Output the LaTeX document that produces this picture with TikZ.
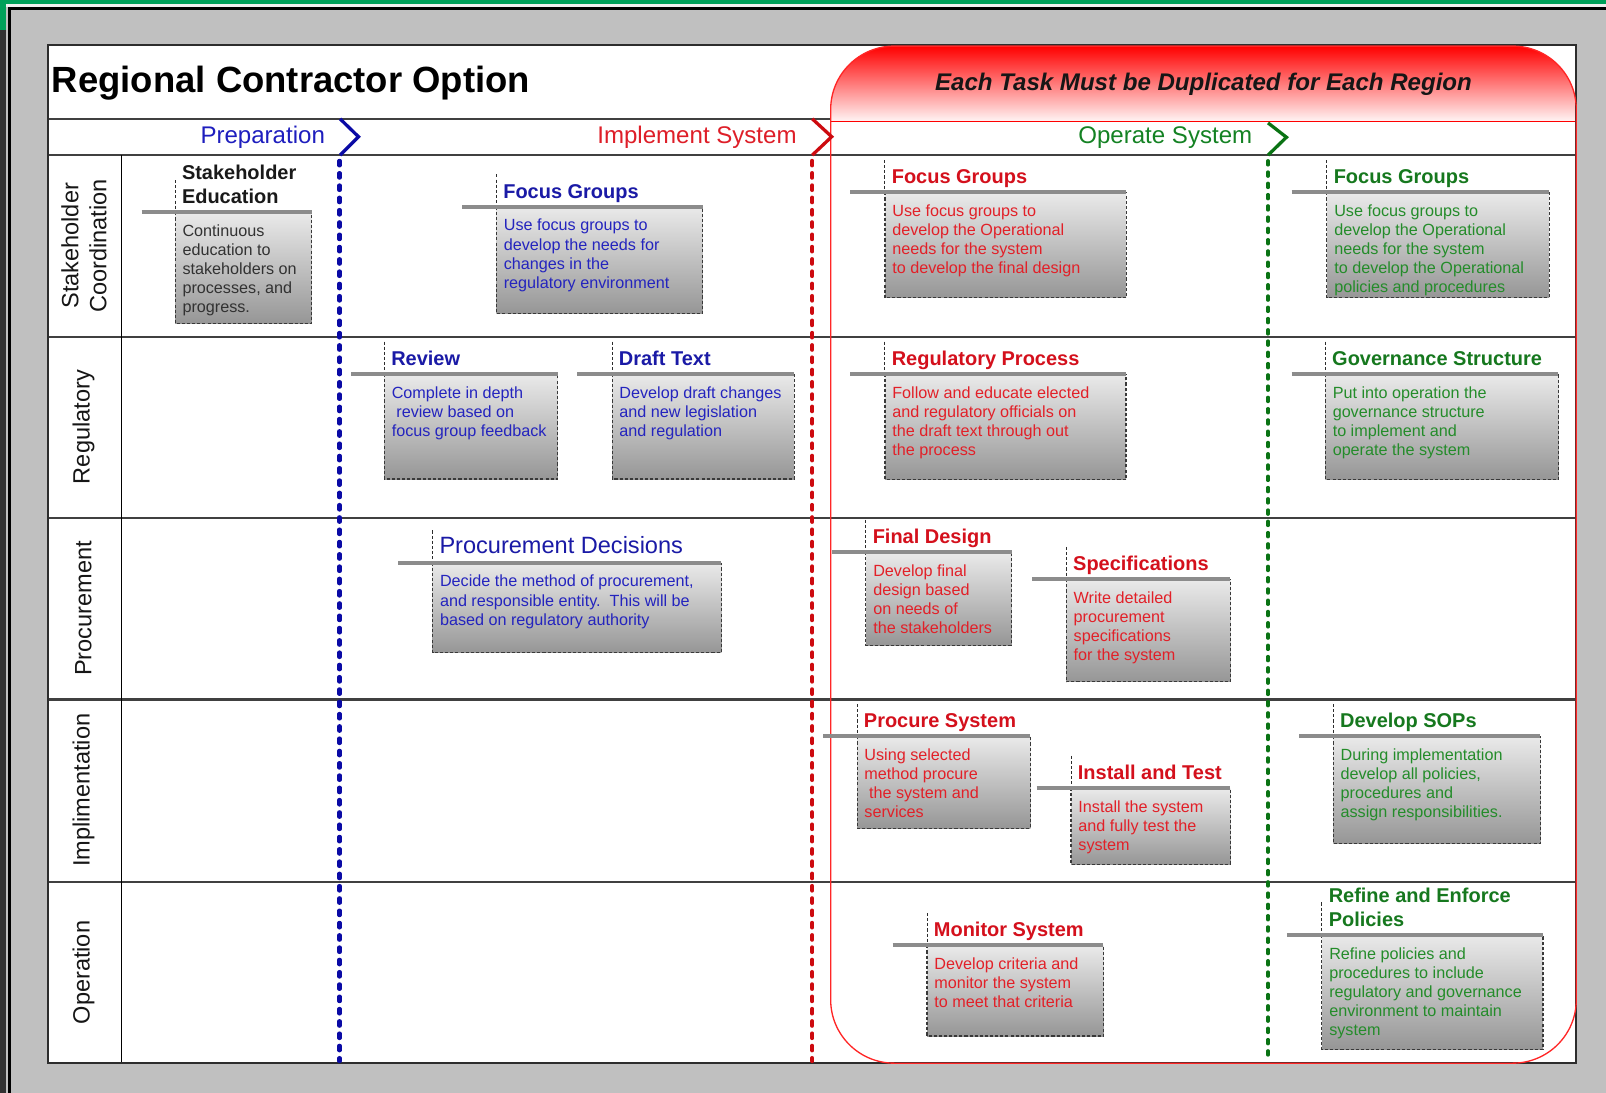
\documentclass[tikz,border=0pt]{standalone}
\usepackage{fontspec}
\setmainfont{Liberation Sans}
\definecolor{bgray}{RGB}{192,192,192}
\definecolor{topgreen}{RGB}{0,160,90}
\definecolor{darkstrip}{RGB}{50,50,50}
\definecolor{gridc}{RGB}{64,64,64}
\definecolor{bt}{RGB}{26,26,166}
\definecolor{bb}{RGB}{36,36,190}
\definecolor{rt}{RGB}{212,16,28}
\definecolor{rb}{RGB}{226,32,40}
\definecolor{gt}{RGB}{22,120,30}
\definecolor{gb}{RGB}{36,140,42}
\definecolor{kt}{RGB}{25,25,25}
\definecolor{kb}{RGB}{50,50,50}
\definecolor{lblue}{RGB}{10,10,165}
\definecolor{lred}{RGB}{205,10,15}
\definecolor{lgreen}{RGB}{10,115,20}
\definecolor{boxtop}{RGB}{234,234,234}
\definecolor{boxbot}{RGB}{150,150,150}
\definecolor{hbarc}{RGB}{140,140,140}
\definecolor{phb}{RGB}{30,30,190}
\definecolor{phr}{RGB}{222,30,40}
\definecolor{phg}{RGB}{20,130,35}
\definecolor{inktext}{RGB}{22,22,22}
\newcommand\tskoff{0}
\tikzset{
 boxshade/.style={top color=boxtop, bottom color=boxbot},
 boxedge/.style={draw=gray!45!black, line width=1.1pt, dash pattern=on 3pt off 2pt},
 vdash/.style={draw=gray!35!black, line width=1pt, dash pattern=on 3pt off 2pt},
 hbar/.style={draw=hbarc, line width=4pt},
 ttl/.style={anchor=north west, inner sep=0pt, align=left, font=\fontsize{19.5}{23.5}\selectfont\bfseries},
 bdy/.style={anchor=north west, inner sep=0pt, align=left, font=\fontsize{15.8}{18.6}\selectfont},
 gridline/.style={draw=gridc, line width=2.2pt},
 phase/.style={anchor=base, inner sep=0pt, font=\fontsize{23.5}{28}\selectfont},
 rowlabel/.style={rotate=90, align=center, inner sep=0pt, text=inktext, font=\fontsize{23}{27.5}\selectfont},
 bluedash/.style={draw=lblue, line width=4pt, line cap=round, dash pattern=on 4.5pt off 7.5pt},
 reddash/.style={draw=lred, line width=4pt, line cap=round, dash pattern=on 4.5pt off 7.5pt},
 greendash/.style={draw=lgreen, line width=3.3pt, line cap=round, dash pattern=on 4pt off 7pt},
 chev/.style={line width=3.2pt, line join=miter}
}
\newcommand\taskbox[9]{%
 \shade[boxshade] (#2,#4) rectangle (#3,#5);
 \draw[boxedge] (#2,#4) -- (#2,#5) -- (#3,#5) -- (#3,#4);
 \draw[vdash] (#2,{#4-31.5}) -- (#2,#4);
 \draw[hbar] (#6,#4) -- (#3,#4);
 \node[ttl, text=#7t] (#1t) at ({#2+6.5},{#4-23.5-\tskoff}) {\rule{0pt}{15pt}#8};
 \node[bdy, text=#7b] (#1b) at ({#2+7},{#4+11.5}) {\rule{0pt}{12pt}#9};
}
\begin{document}
\begin{tikzpicture}[x=1pt,y=-1pt]
\useasboundingbox (0,0) rectangle (1568,1067);
% frame / background
\fill[bgray] (0,0) rectangle (1568,1067);
\fill[white!88!gray] (0,4) rectangle (1568,7);
\fill[topgreen] (0,0) rectangle (1568,4);
\fill[topgreen] (0,0) rectangle (6,29);
\fill[darkstrip] (0,29) rectangle (6,1067);
\fill[black] (8,7) rectangle (1568,10);
\fill[black] (8,7) rectangle (11,1067);
% panel
\fill[white] (47,44) rectangle (1539,1038);
\begin{scope}
 \clip[rounded corners=62pt] (811,45) rectangle (1539,1038);
 \shade[top color=red, bottom color=red!4] (811,45) rectangle (1539,118.5);
\end{scope}
% grid
\draw[gridline] (47,116) -- (811,116);
\draw[red, line width=1.6pt] (811,118.5) -- (1539,118.5);
\draw[gridline] (47,151.5) -- (1539,151.5);
\foreach \yy in {329,506,683,861} \draw[gridline] (47,\yy) -- (1539,\yy);
\draw[black, line width=1.3pt] (118.5,151.5) -- (118.5,1038);
\draw[draw=gridc!70!black, line width=2.2pt] (47,44) rectangle (1539,1038);
\draw[red!85, line width=1.3pt, rounded corners=62pt] (811,45) rectangle (1539,1038);
% phase separators
\draw[lblue, chev] (332,116) -- (350,133.5) -- (332,151.5);
\draw[lred, chev] (793,116) -- (812,133.5) -- (793,151.5);
\draw[lgreen, chev] (1238,120) -- (1256,134) -- (1238,151.5);
\draw[bluedash] (331.5,157) -- (331.5,1036);
\draw[reddash] (793,157) -- (793,1036);
\draw[greendash] (1238,157) -- (1238,1036);
% headings
\node[anchor=base west, inner sep=0pt, text=black, font=\fontsize{35.6}{40}\selectfont\bfseries] (title) at (50.5,90.5) {Regional Contractor Option};
\node[anchor=base, inner sep=0pt, text=inktext, font=\fontsize{23.5}{28}\selectfont\bfseries\itshape] (dup) at (1175,88.5) {Each Task Must be Duplicated for Each Region};
\node[phase, text=phb] (prep) at (256.5,140) {Preparation};
\node[phase, text=phr] (impl) at (680.5,140) {Implement System};
\node[phase, text=phg] (oper) at (1137.7,140) {Operate System};
% row labels
\node[rowlabel] (rowa) at (82,240) {Stakeholder\\Coordination};
\node[rowlabel] (rowb) at (81.5,417) {Regulatory};
\node[rowlabel] (rowc) at (81.5,594) {Procurement};
\node[rowlabel] (rowd) at (81.5,771.5) {Implimentation};
\node[rowlabel] (rowe) at (81.5,949.5) {Operation};
% task boxes
\renewcommand\tskoff{23.5}
\taskbox{se}{171}{304.5}{207.3}{315.7}{138.3}{k}{Stakeholder\\Education}{Continuous\\education to\\stakeholders on\\processes, and\\progress.}
\renewcommand\tskoff{0}
\taskbox{fga}{484.7}{686}{201.8}{306}{451.5}{b}{Focus Groups}{Use focus groups to\\develop the needs for\\changes in the\\regulatory environment}
\taskbox{fgb}{864}{1099.5}{187.8}{290.6}{830}{r}{Focus Groups}{Use focus groups to\\develop the Operational\\needs for the system\\to develop the final design}
\taskbox{fgc}{1295.5}{1512.4}{187.8}{290.6}{1261}{g}{Focus Groups}{Use focus groups to\\develop the Operational\\needs for the system\\to develop the Operational\\policies and procedures}
\taskbox{rev}{375.3}{544.4}{365}{467.7}{343}{b}{Review}{Complete in depth\\\hspace*{4.5pt}review based on\\focus group feedback}
\taskbox{dt}{597.6}{775.3}{365}{467.7}{563.5}{b}{Draft Text}{Develop draft changes\\and new legislation\\and regulation}
\taskbox{rp}{864}{1099.4}{365}{468}{830}{r}{Regulatory Process}{Follow and educate elected\\and regulatory officials on\\the draft text through out\\the process}
\taskbox{gs}{1294}{1521.6}{365}{468}{1261}{g}{Governance Structure}{Put into operation the\\governance structure\\to implement and\\operate the system}
\renewcommand\tskoff{2.8}
\taskbox{pd}{422.4}{704.4}{549.4}{637.2}{388.8}{b}{{\fontsize{23}{27}\selectfont\mdseries Procurement Decisions}}{Decide the method of procurement,\\and responsible entity.\ \ This will be\\based on regulatory authority}
\renewcommand\tskoff{0}
\taskbox{fd}{845.4}{987.9}{539}{629.8}{812.2}{r}{Final Design}{Develop final\\design based\\on needs of\\the stakeholders}
\taskbox{sp}{1041.1}{1201.2}{565.5}{665.6}{1008}{r}{Specifications}{Write detailed\\procurement\\specifications\\for the system}
\taskbox{ps}{836.8}{1006}{718.9}{808.8}{803.7}{r}{Procure System}{Using selected\\method procure\\\hspace*{4.5pt}the system and\\services}
\taskbox{it}{1045.7}{1201.2}{769.4}{843.9}{1012}{r}{Install and Test}{Install the system\\and fully test the\\system}
\taskbox{sop}{1301.7}{1504}{718.9}{823.4}{1268.5}{g}{Develop SOPs}{During implementation\\develop all policies,\\procedures and\\assign responsibilities.}
\taskbox{ms}{905.1}{1077.3}{923}{1011.5}{871.4}{r}{Monitor System}{Develop criteria and\\monitor the system\\to meet that criteria}
\renewcommand\tskoff{23.5}
\taskbox{rep}{1290.6}{1506.5}{912.6}{1024.5}{1256.5}{g}{Refine and Enforce\\Policies}{Refine policies and\\procedures to include\\regulatory and governance\\environment to maintain\\system}
\renewcommand\tskoff{0}
\end{tikzpicture}
\end{document}
